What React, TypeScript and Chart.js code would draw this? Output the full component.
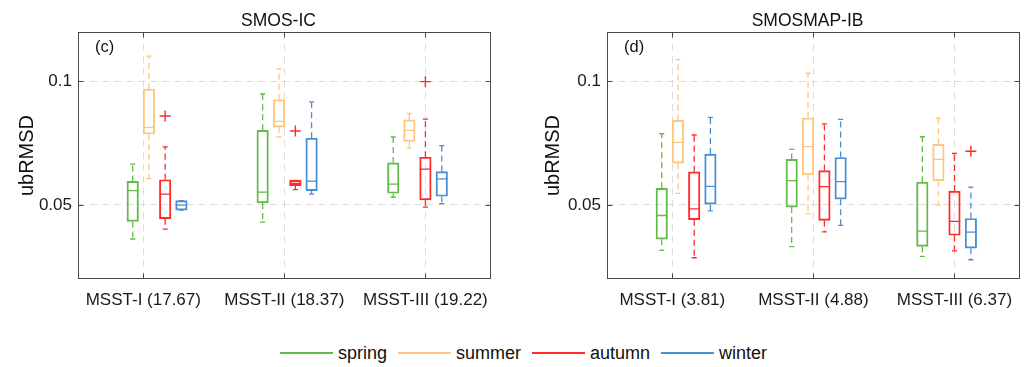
import React, { useEffect, useRef } from 'react';
import { Chart, registerables } from 'chart.js';

Chart.register(...registerables);

const FONT = '"Liberation Sans", Arial, Helvetica, sans-serif';

const seasons = ['spring', 'summer', 'autumn', 'winter'];
const seasonColors = ['#62bb47', '#ffc77d', '#ff2b2b', '#4a8fd4'];

const labelsIC = ['MSST-I (17.67)', 'MSST-II (18.37)', 'MSST-III (19.22)'];
const labelsIB = ['MSST-I (3.81)', 'MSST-II (4.88)', 'MSST-III (6.37)'];
const groupCenters = [1, 2, 3];
const yTicks = [0.05, 0.1];

// box positions (x-axis units) per season, for groups 1..3
const posSpring = [0.925, 1.846, 2.772];
const posSummer = [1.04, 1.962, 2.886];
const posAutumn = [1.155, 2.078, 3.0];
const posWinter = [1.27, 2.193, 3.116];

// [lower whisker, q1, median, q3, upper whisker] per group
const icSpring = [[0.0362, 0.0433, 0.0558, 0.0595, 0.0665], [0.043, 0.0508, 0.0552, 0.0802, 0.0949], [0.0531, 0.0547, 0.0584, 0.067, 0.0775]];
const icSummer = [[0.0606, 0.0787, 0.0814, 0.0969, 0.1102], [0.0775, 0.0815, 0.0838, 0.0926, 0.1051], [0.073, 0.0757, 0.0802, 0.0844, 0.087]];
const icAutumn = [[0.0402, 0.0444, 0.0544, 0.0602, 0.0735], [0.0562, 0.0578, 0.0587, 0.0599, 0.0599], [0.0491, 0.052, 0.0645, 0.0693, 0.0847]];
const icWinter = [[0.0479, 0.0479, 0.0499, 0.0517, 0.0517], [0.0544, 0.0558, 0.0596, 0.077, 0.0917], [0.0505, 0.0535, 0.0605, 0.0635, 0.074]];

const ibSpring = [[0.0316, 0.0361, 0.0457, 0.0567, 0.0788], [0.0331, 0.0491, 0.0598, 0.0684, 0.0725], [0.0292, 0.0332, 0.0394, 0.0592, 0.0776]];
const ibSummer = [[0.0547, 0.0669, 0.0753, 0.0842, 0.1088], [0.0464, 0.0622, 0.0736, 0.0852, 0.1033], [0.05, 0.0598, 0.0684, 0.0745, 0.0851]];
const ibAutumn = [[0.0286, 0.044, 0.0484, 0.0634, 0.0783], [0.0391, 0.0437, 0.0574, 0.0639, 0.0828], [0.0314, 0.0377, 0.0433, 0.0556, 0.0708]];
const ibWinter = [[0.0476, 0.0503, 0.0575, 0.0706, 0.0854], [0.0417, 0.0523, 0.0594, 0.0692, 0.0846], [0.0278, 0.0325, 0.039, 0.0445, 0.0572]];

// outliers (red "+" marks): [x position, value]
const icOutliers = [[1.155, 0.086], [2.078, 0.0799], [3.0, 0.0999]];
const ibOutliers = [[3.116, 0.0717]];
const outlierColor = '#ff2b2b';

const positions = [posSpring, posSummer, posAutumn, posWinter];
const BOX_HALF = 0.04;
const CAP_HALF = 0.018;

function buildDatasets(stats: number[][][], outliers: number[][]) {
  const ds: any[] = [];
  stats.forEach((seasonStats, s) => {
    const color = seasonColors[s];
    const pos = positions[s];
    ds.push({
      type: 'bar',
      label: seasons[s],
      data: seasonStats.map((st, g) => ({ x: pos[g], y: [st[1], st[3]] })),
      backgroundColor: 'rgba(0,0,0,0)',
      borderColor: color,
      borderWidth: 1.3,
      borderSkipped: false,
      barThickness: 11.5,
      grouped: false,
      order: 1,
    });
    const solid: any[] = [];
    const dashed: any[] = [];
    seasonStats.forEach((st, g) => {
      const x = pos[g];
      solid.push({ x: x - BOX_HALF, y: st[2] }, { x: x + BOX_HALF, y: st[2] }, { x, y: null });
      solid.push({ x: x - CAP_HALF, y: st[4] }, { x: x + CAP_HALF, y: st[4] }, { x, y: null });
      solid.push({ x: x - CAP_HALF, y: st[0] }, { x: x + CAP_HALF, y: st[0] }, { x, y: null });
      dashed.push({ x, y: st[3] }, { x, y: st[4] }, { x, y: null });
      dashed.push({ x, y: st[1] }, { x, y: st[0] }, { x, y: null });
    });
    ds.push({
      type: 'line', label: seasons[s] + ' median/caps', data: solid,
      borderColor: color, borderWidth: 1.3, pointRadius: 0, spanGaps: false, fill: false, order: 0,
    });
    ds.push({
      type: 'line', label: seasons[s] + ' whiskers', data: dashed,
      borderColor: color, borderWidth: 1.3, borderDash: [6, 4], pointRadius: 0, spanGaps: false, fill: false, order: 0,
    });
  });
  ds.push({
    type: 'scatter', label: 'outliers',
    data: outliers.map(([x, v]) => ({ x, y: v })),
    pointStyle: 'cross', pointRadius: 5.5, borderColor: outlierColor, borderWidth: 1.4, showLine: false, order: 0,
  });
  return ds;
}

const framePlugin = {
  id: 'matlabFrame',
  afterDraw(chart: any) {
    const { ctx, chartArea, scales } = chart;
    const opts = chart.options.plugins.matlabFrame;
    const l = Math.round(chartArea.left) + 0.5;
    const r = Math.round(chartArea.right) - 0.5;
    const t = Math.round(chartArea.top) + 0.5;
    const b = Math.round(chartArea.bottom) - 0.5;
    ctx.save();
    ctx.strokeStyle = '#4a4a4a';
    ctx.lineWidth = 1;
    ctx.strokeRect(l, t, r - l, b - t);
    ctx.beginPath();
    groupCenters.forEach((v) => {
      const px = Math.round(scales.x.getPixelForValue(v)) + 0.5;
      ctx.moveTo(px, b); ctx.lineTo(px, b - 5);
      ctx.moveTo(px, t); ctx.lineTo(px, t + 5);
    });
    yTicks.forEach((v) => {
      const py = Math.round(scales.y.getPixelForValue(v)) + 0.5;
      ctx.moveTo(l, py); ctx.lineTo(l + 5, py);
      ctx.moveTo(r, py); ctx.lineTo(r - 5, py);
    });
    ctx.stroke();
    ctx.fillStyle = '#111';
    ctx.textBaseline = 'middle';
    ctx.textAlign = 'center';
    ctx.font = `17.5px ${FONT}`;
    ctx.fillText(opts.title, (chartArea.left + chartArea.right) / 2 - 6, 21);
    ctx.textAlign = 'left';
    ctx.font = `16.5px ${FONT}`;
    ctx.fillText(opts.tag, chartArea.left + 17, 47);
    ctx.restore();
  },
};

type PanelProps = {
  left: number; width: number; title: string; tag: string; labels: string[];
  stats: number[][][]; outliers: number[][]; axisWidth: number; padRight: number; yTitlePad: number;
};

function Panel(p: PanelProps) {
  const ref = useRef<HTMLCanvasElement>(null);
  useEffect(() => {
    const chart = new Chart(ref.current as HTMLCanvasElement, {
      type: 'bar',
      data: { datasets: buildDatasets(p.stats, p.outliers) },
      plugins: [framePlugin],
      options: {
        animation: false,
        responsive: false,
        events: [],
        layout: { padding: { left: 0, top: 32, right: p.padRight, bottom: 0 } },
        plugins: {
          legend: { display: false },
          tooltip: { enabled: false },
          matlabFrame: { title: p.title, tag: p.tag },
        } as any,
        scales: {
          x: {
            type: 'linear',
            min: 0.537,
            max: 3.465,
            offset: false,
            grid: { color: '#dcdcdc', lineWidth: 1, drawTicks: false, offset: false },
            border: { display: false, dash: [7, 5] },
            afterBuildTicks: (axis: any) => { axis.ticks = groupCenters.map((v) => ({ value: v })); },
            afterFit: (axis: any) => { axis.height = 51; },
            ticks: {
              autoSkip: false, maxRotation: 0, padding: 11,
              color: '#1a1a1a', font: { family: FONT, size: 17 },
              callback: (_v: any, i: number) => p.labels[i],
            },
          },
          y: {
            type: 'linear',
            min: 0.02,
            max: 0.12,
            grid: { color: '#dcdcdc', lineWidth: 1, drawTicks: false },
            border: { display: false, dash: [7, 5] },
            afterBuildTicks: (axis: any) => { axis.ticks = yTicks.map((v) => ({ value: v })); },
            afterFit: (axis: any) => { axis.width = p.axisWidth; },
            ticks: {
              padding: 6, color: '#1a1a1a', font: { family: FONT, size: 17 },
              callback: (v: any) => String(v),
            },
            title: {
              display: true, text: 'ubRMSD', color: '#111',
              font: { family: FONT, size: 20 }, padding: { top: p.yTitlePad, bottom: 0 },
            },
          },
        },
      } as any,
    });
    return () => chart.destroy();
  }, []);
  return (
    <canvas
      ref={ref}
      width={p.width}
      height={330}
      style={{ position: 'absolute', left: p.left, top: 0, width: p.width, height: 330 }}
    />
  );
}

export default function App() {
  return (
    <div style={{ position: 'absolute', left: 0, top: 0, width: 1027, height: 367, background: '#fff', overflow: 'hidden' }}>
      <Panel left={0} width={520} title="SMOS-IC" tag="(c)" labels={labelsIC}
        stats={[icSpring, icSummer, icAutumn, icWinter]}
        outliers={icOutliers}
        axisWidth={78} padRight={29} yTitlePad={15} />
      <Panel left={520} width={507} title="SMOSMAP-IB" tag="(d)" labels={labelsIB}
        stats={[ibSpring, ibSummer, ibAutumn, ibWinter]}
        outliers={ibOutliers}
        axisWidth={87} padRight={4} yTitlePad={21} />
      <div style={{ position: 'absolute', left: 280, top: 342, display: 'flex', alignItems: 'center', gap: 11,
        font: `18px ${FONT}`, lineHeight: '22px', color: '#111' }}>
        {seasons.map((s, i) => (
          <div key={s} style={{ display: 'flex', alignItems: 'center', gap: 5 }}>
            <div style={{ width: 53, height: 2, background: seasonColors[i] }} />
            <span>{s}</span>
          </div>
        ))}
      </div>
    </div>
  );
}
